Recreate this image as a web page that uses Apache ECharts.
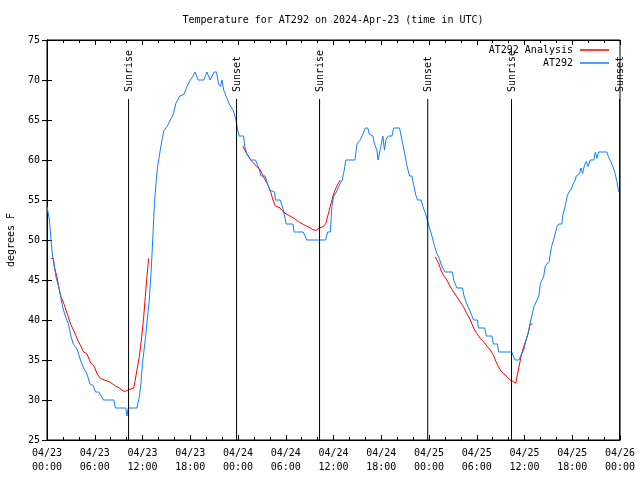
<!DOCTYPE html>
<html>
<head>
<meta charset="utf-8">
<script src="https://cdn.jsdelivr.net/npm/echarts@6/dist/echarts.min.js"></script>
<style>html,body{margin:0;padding:0;background:#fff}#c{width:640px;height:480px}</style>
</head>
<body>
<div id="c"></div>
<script>
// Hours since 2024-04-23 00:00 UTC, temperature in degrees F
var at292 = [[0,54.2],[0.3,52.5],[0.5,50],[0.7,48],[0.9,47],[1.1,45.5],[1.5,44],[1.7,43],[2.0,41.5],[2.3,40.5],[2.7,39.5],[2.8,39],[3.0,38],[3.3,37],[3.7,36.5],[3.9,36],[4.2,35],[4.6,34],[4.9,33.5],[5.1,33],[5.4,32],[5.8,31.8],[6.1,31],[6.5,31],[6.8,30.5],[7.1,30],[8.4,30],[8.6,29],[9.9,29],[10.05,28],[10.2,29],[11.3,29],[11.6,30.4],[11.8,32],[12.0,34.6],[12.4,38],[12.85,42.5],[13.1,46.3],[13.3,50.4],[13.5,54.6],[13.7,57.1],[13.9,59.2],[14.1,60.4],[14.3,61.7],[14.5,62.7],[14.7,63.7],[15.1,64.2],[15.5,65],[15.9,65.8],[16.2,67.1],[16.7,68],[17.2,68.2],[17.6,69.2],[18.0,70],[18.3,70.4],[18.6,71],[19.0,70],[19.7,70],[20.1,71],[20.5,70],[21.0,71],[21.3,71],[21.55,69.5],[21.8,69.2],[22.0,70],[22.2,68.75],[22.5,68],[22.9,67],[23.1,67],[23.4,66.2],[23.75,65],[23.95,63.75],[24.15,63],[24.7,63],[24.85,61.7],[25.1,60.8],[25.6,60],[26.2,60],[26.6,59],[26.9,58],[27.4,58],[27.7,57],[28.05,56.2],[28.6,56],[28.7,55],[29.3,55],[29.7,53.75],[30.05,52],[30.9,52],[31.05,51],[32.2,51],[32.65,50],[35.0,50],[35.25,51],[35.6,51],[35.8,54.2],[36.0,55.4],[36.35,56],[36.8,57],[37.1,57.5],[37.35,58.75],[37.55,60],[38.7,60],[38.95,62],[39.35,62.5],[39.6,63],[40.0,64],[40.3,64],[40.5,63.25],[40.95,63],[41.15,62],[41.45,61.25],[41.6,60],[41.8,60],[41.95,61.7],[42.2,63],[42.4,61.25],[42.6,62.6],[42.9,63],[43.35,63],[43.55,64],[44.3,64],[44.5,63],[44.7,62],[44.95,60.8],[45.2,59.4],[45.55,58],[45.85,58],[46.05,57],[46.35,55.6],[46.55,55],[47.0,55],[47.3,54],[47.65,53],[48.0,51.7],[48.15,51.25],[48.4,50.4],[48.7,49.2],[49.0,48.3],[49.3,47.7],[49.5,47],[50.0,46],[50.95,46],[51.1,45],[51.5,44],[52.2,44],[52.4,43],[52.75,42],[53.2,41],[53.6,40],[54.1,40],[54.2,39],[55.0,39],[55.2,38],[55.9,38],[56.1,37],[56.6,37],[56.75,36],[58.4,36],[58.6,35.5],[58.8,35],[59.3,35],[59.6,35.7],[59.9,36.2],[60.2,37.5],[60.5,38.5],[60.7,39.5],[60.8,40],[61.0,40],[61.2,41.7],[61.35,42],[61.6,42],[61.8,43],[62.0,44.6],[62.2,45],[62.4,45.4],[62.6,46.7],[62.8,47],[63.1,47.3],[63.2,48],[63.4,49.2],[63.65,50],[63.9,50],[64.1,51.7],[64.3,52],[64.7,52],[64.8,53],[65.0,53.75],[65.2,54],[65.4,55.6],[65.6,56],[65.95,56.5],[66.1,57],[66.4,57.5],[66.5,58],[66.9,58.3],[67.1,59],[67.3,58.3],[67.5,59.2],[67.75,59.8],[67.9,60],[68.0,59.2],[68.25,60],[68.7,60],[68.9,61],[69.1,60.2],[69.3,61],[70.35,61],[70.55,60.4],[70.85,59.8],[71.1,59.2],[71.4,58.3],[71.6,57.3],[71.85,56]];

var analysisDay1 = [[0.5,47.7],[0.8,47.7],[0.9,46.7],[1.25,45.4],[1.55,43.75],[1.76,42.9],[2.17,41.9],[2.6,40.6],[3.0,39.4],[3.43,38.5],[3.85,37.5],[4.27,36.7],[4.6,36],[5.0,35.8],[5.5,34.6],[5.94,34.2],[6.28,33.3],[6.7,32.7],[7.2,32.5],[7.83,32.3],[8.25,32],[8.67,31.7],[9.1,31.5],[9.6,31.1],[9.9,31.1],[10.3,31.3],[10.55,31.5],[10.9,31.5],[11.05,32.3],[11.3,33.75],[11.6,35.4],[11.9,37.9],[12.15,40.4],[12.35,42.9],[12.56,45.4],[12.77,47.7]];
var analysisDay2 = [[24.6,61.75],[24.8,61.5],[25.1,60.8],[25.6,60],[26.15,59.4],[26.8,58.75],[27.2,57.9],[27.75,56.9],[28.1,56],[28.4,55],[28.7,54.25],[29.3,54],[29.8,53.4],[30.35,53.1],[31.07,52.7],[31.6,52.3],[32.2,51.95],[32.9,51.6],[33.4,51.3],[33.8,51.2],[34.25,51.5],[34.75,51.7],[35.05,52.1],[35.3,53.1],[35.6,54.2],[35.9,55.4],[36.2,56.25],[36.5,56.9],[36.85,57.5]];
var analysisDay3 = [[48.8,47.9],[49.0,47.9],[49.2,47.1],[49.5,46.25],[49.8,45.6],[50.25,45],[50.65,44.2],[51.1,43.5],[51.5,42.9],[51.9,42.3],[52.3,41.7],[52.75,40.8],[53.2,40],[53.6,39],[54.0,38.3],[54.45,37.7],[54.85,37.3],[55.3,36.7],[55.7,36.25],[56.1,35.6],[56.5,34.6],[56.95,33.75],[57.35,33.3],[57.8,32.9],[58.2,32.5],[58.6,32.3],[58.9,32.1],[59.05,32.9],[59.3,34.1],[59.6,35.6],[59.9,36.7],[60.2,37.5],[60.5,38.5],[60.7,39.5],[61.0,39.5]];

var sunHours = [10.25, 23.82, 34.25, 47.84, 58.37, 71.95];
var sunLabels = ['Sunrise', 'Sunset', 'Sunrise', 'Sunset', 'Sunrise', 'Sunset'];
var dayLabels = ['04/23', '04/24', '04/25', '04/26'];

var FONT = 'DejaVu Sans Mono';
var analysis = analysisDay1.concat([[null, null]], analysisDay2, [[null, null]], analysisDay3);

function fmtX(v) {
  var d = Math.floor(v / 24 + 1e-9);
  var h = Math.round(v - d * 24);
  return dayLabels[d] + '\n' + (h < 10 ? '0' : '') + h + ':00';
}

var chart = echarts.init(document.getElementById('c'), null, {renderer: 'canvas'});
var tickStyle = {color: '#000', width: 1};
var option = {
  animation: false,
  backgroundColor: '#fff',
  title: {
    text: 'Temperature for AT292 on 2024-Apr-23 (time in UTC)',
    left: 333, top: 15, textAlign: 'center', padding: 0,
    textStyle: {fontFamily: FONT, fontSize: 10, fontWeight: 'normal', color: '#000'}
  },
  legend: {
    data: ['AT292 Analysis', 'AT292'],
    orient: 'vertical', right: 31, top: 45, align: 'right', padding: 0,
    icon: 'rect', itemWidth: 29, itemHeight: 1.5, itemGap: 3,
    textStyle: {fontFamily: FONT, fontSize: 10, color: '#000', padding: [0, 2, 0, 0]}
  },
  grid: {left: 47, right: 20, top: 40, bottom: 40, show: true, borderColor: '#000', borderWidth: 1, containLabel: false, outerBoundsMode: 'none'},
  xAxis: [{
    type: 'value', min: 0, max: 72, interval: 6, position: 'bottom',
    axisLine: {show: true, lineStyle: {color: '#000', width: 1}},
    axisTick: {show: true, inside: true, length: 5, lineStyle: tickStyle},
    minorTick: {show: true, splitNumber: 3, length: 3, lineStyle: tickStyle},
    splitLine: {show: false},
    axisLabel: {formatter: fmtX, fontFamily: FONT, fontSize: 10, color: '#000', lineHeight: 14, margin: 6}
  }, {
    type: 'value', min: 0, max: 72, interval: 6, position: 'top',
    axisLine: {show: true, lineStyle: {color: '#000', width: 1}},
    axisTick: {show: true, inside: true, length: 5, lineStyle: tickStyle},
    minorTick: {show: true, splitNumber: 3, length: 3, lineStyle: tickStyle},
    splitLine: {show: false}, axisLabel: {show: false}
  }],
  yAxis: [{
    type: 'value', min: 25, max: 75, interval: 5, position: 'left',
    name: 'degrees F', nameLocation: 'middle', nameGap: 31, nameRotate: 90,
    nameTextStyle: {fontFamily: FONT, fontSize: 10, color: '#000'},
    axisLine: {show: true, lineStyle: {color: '#000', width: 1}},
    axisTick: {show: true, inside: true, length: 5, lineStyle: tickStyle},
    splitLine: {show: false},
    axisLabel: {fontFamily: FONT, fontSize: 10, color: '#000', margin: 7}
  }, {
    type: 'value', min: 25, max: 75, interval: 5, position: 'right',
    axisLine: {show: true, lineStyle: {color: '#000', width: 1}},
    axisTick: {show: true, inside: true, length: 5, lineStyle: tickStyle},
    splitLine: {show: false}, axisLabel: {show: false}
  }],
  series: [{
    name: 'AT292 Analysis', type: 'line', data: analysis, connectNulls: false,
    symbol: 'none', color: '#ff0000', lineStyle: {color: '#ff0000', width: 1}, z: 3
  }, {
    name: 'AT292', type: 'line', data: at292,
    symbol: 'none', color: '#1080ff', lineStyle: {color: '#1080ff', width: 1}, z: 4
  }, {
    name: 'sun', type: 'custom', data: sunHours.map(function (h) { return [h]; }), z: 5,
    renderItem: function (params, api) {
      var cs = params.coordSys;
      var p = api.coord([api.value(0), 25]);
      var top = cs.y + 59;
      return {
        type: 'group',
        children: [{
          type: 'line',
          shape: {x1: p[0], y1: top, x2: p[0], y2: cs.y + cs.height},
          style: {stroke: '#000', lineWidth: 1}
        }, {
          type: 'text', x: p[0] + 1, y: top - 7, rotation: Math.PI / 2,
          style: {text: sunLabels[params.dataIndex], fill: '#000', font: '10px "' + FONT + '"', textAlign: 'left', textVerticalAlign: 'middle'}
        }]
      };
    }
  }]
};
chart.setOption(option);
</script>
</body>
</html>
